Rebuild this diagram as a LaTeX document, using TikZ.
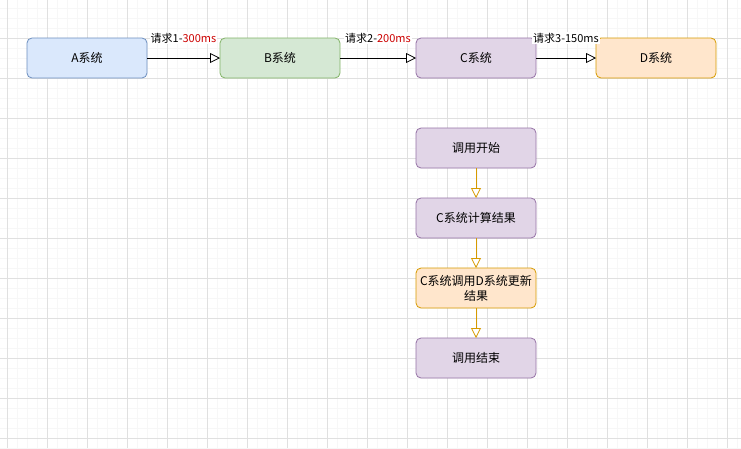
\documentclass[tikz,border=0pt]{standalone}
\usepackage{fontspec}
\setmainfont{Noto Sans CJK SC}
\usepackage{xcolor}
\usetikzlibrary{arrows.meta,positioning}

\definecolor{blueFill}{HTML}{DAE8FC}
\definecolor{blueLine}{HTML}{6C8EBF}
\definecolor{greenFill}{HTML}{D5E8D4}
\definecolor{greenLine}{HTML}{82B366}
\definecolor{purpleFill}{HTML}{E1D5E7}
\definecolor{purpleLine}{HTML}{9673A6}
\definecolor{orangeFill}{HTML}{FFE6CC}
\definecolor{orangeLine}{HTML}{D79B00}
\definecolor{timeRed}{HTML}{CC0000}
\definecolor{gridMinor}{HTML}{F7F7F7}
\definecolor{gridMajor}{HTML}{E0E0E0}

\begin{document}
\begin{tikzpicture}[x=1pt, y=-1pt,
  box/.style={draw, rounded corners=5pt, align=center, minimum width=120pt, minimum height=40pt, inner sep=2pt, outer sep=0pt, line width=0.8pt, font=\fontsize{12}{15}\selectfont},
  sysbox/.style={box, fill=purpleFill, draw=purpleLine},
  arr/.style={-{Triangle[open, length=10pt, width=10pt, fill=white]}, line width=0.8pt},
  lab/.style={font=\fontsize{11}{13}\selectfont, fill=white, inner sep=1pt}]
% background grid
\useasboundingbox (0,0) rectangle (741,448);
\fill[white] (0,0) rectangle (741,448);
\foreach \x in {7,17,...,737} \draw[gridMinor, line width=0.6pt] (\x,0) -- (\x,448);
\foreach \y in {8,18,...,448} \draw[gridMinor, line width=0.6pt] (0,\y) -- (741,\y);
\foreach \x in {7,47,...,727} \draw[gridMajor, line width=0.6pt] (\x,0) -- (\x,448);
\foreach \y in {38,78,...,438} \draw[gridMajor, line width=0.6pt] (0,\y) -- (741,\y);

% request chain
\node[box, fill=blueFill, draw=blueLine] (sysA) at (87,58) {A系统};
\node[box, fill=greenFill, draw=greenLine, right=73pt of sysA] (sysB) {B系统};
\node[sysbox, right=76pt of sysB] (sysC) {C系统};
\node[box, fill=orangeFill, draw=orangeLine, right=60pt of sysC] (sysD) {D系统};
\draw[arr] (sysA) -- node[lab, yshift=20pt] {请求1-\textcolor{timeRed}{300ms}} (sysB);
\draw[arr] (sysB) -- node[lab, yshift=20pt] {请求2-\textcolor{timeRed}{200ms}} (sysC);
\draw[arr] (sysC) -- node[lab, yshift=20pt] {请求3-150ms} (sysD);

% steps inside C
\node[sysbox, below=50pt of sysC] (callStart) {调用开始};
\node[sysbox, below=30pt of callStart] (calcRes) {C系统计算结果};
\node[box, fill=orangeFill, draw=orangeLine, below=30pt of calcRes, text width=116pt] (callD) {C系统调用D系统更新\\结果};
\node[sysbox, below=30pt of callD] (callEnd) {调用结束};
\draw[arr, orangeLine] (callStart) -- (calcRes);
\draw[arr, orangeLine] (calcRes) -- (callD);
\draw[arr, orangeLine] (callD) -- (callEnd);
\end{tikzpicture}
\end{document}
